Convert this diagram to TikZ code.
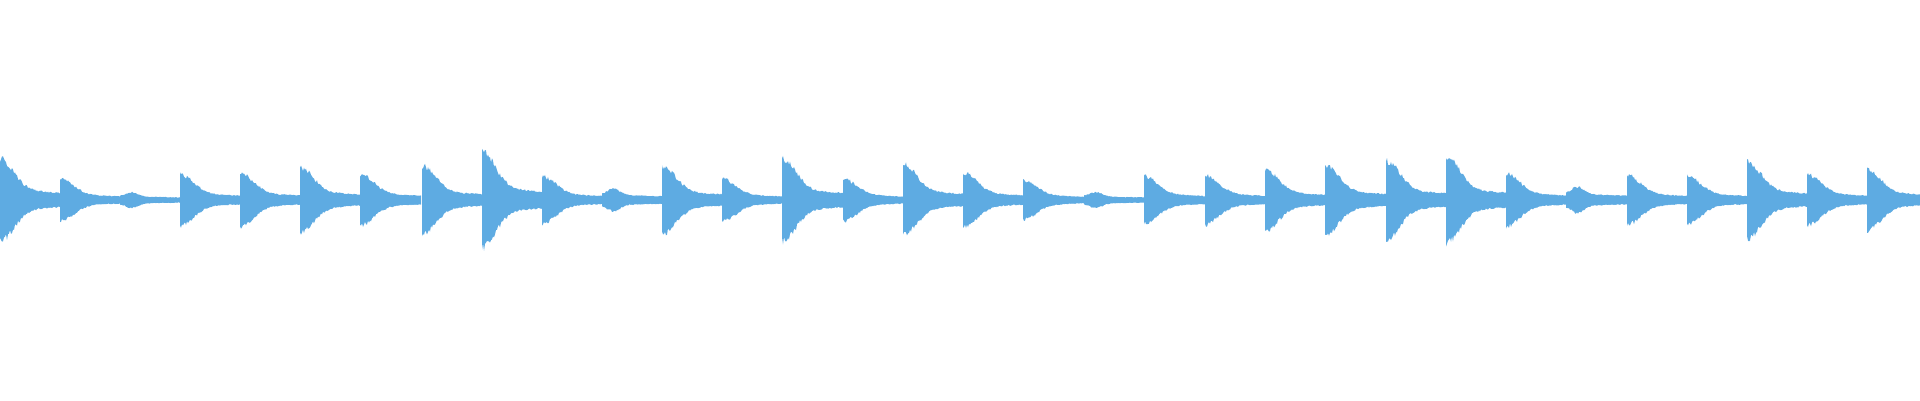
\documentclass[tikz,border=0pt]{standalone}
\definecolor{wavecol}{RGB}{94,171,226}
\tikzset{wave/.style={fill=wavecol}}
\begin{document}
\begin{tikzpicture}[x=1pt,y=-1pt,
  declare function={
    hit(\t,\a)=\a*((0.27-0.1*\t/61)+0.73*exp(-(\t/19)^2));
    bump(\t,\a)=\a*(0.45+0.55*exp(-((\t-12)/9)^2))*(1-0.3*\t/61);
    env(\t,\a)=(\a<16 ? bump(\t,\a) : hit(\t,\a))*(0.82+0.18*rnd);}]
\useasboundingbox (0,0) rectangle (1920,400);
\pgfmathsetseed{7}
\foreach \s/\A in {0/45,60/23,120/9,180/28,240/29,300/35,360/28,422/37,482/52,542/26,602/13,662/37,722/23,782/45,843/23,903/39,963/30,1023/21,1084/9,1144/26,1205/27,1265/33,1325/38,1386/43,1446/47,1506/29,1566/15,1627/27,1687/26,1747/42,1807/28,1867/33}{
  \fill[wave] plot[domain=0:61,samples=62] ({\s+\x},{200-env(\x,\A)})
    -- plot[domain=61:0,samples=62] ({\s+\x},{200+env(\x,\A)}) -- cycle;
}
\end{tikzpicture}
\end{document}
